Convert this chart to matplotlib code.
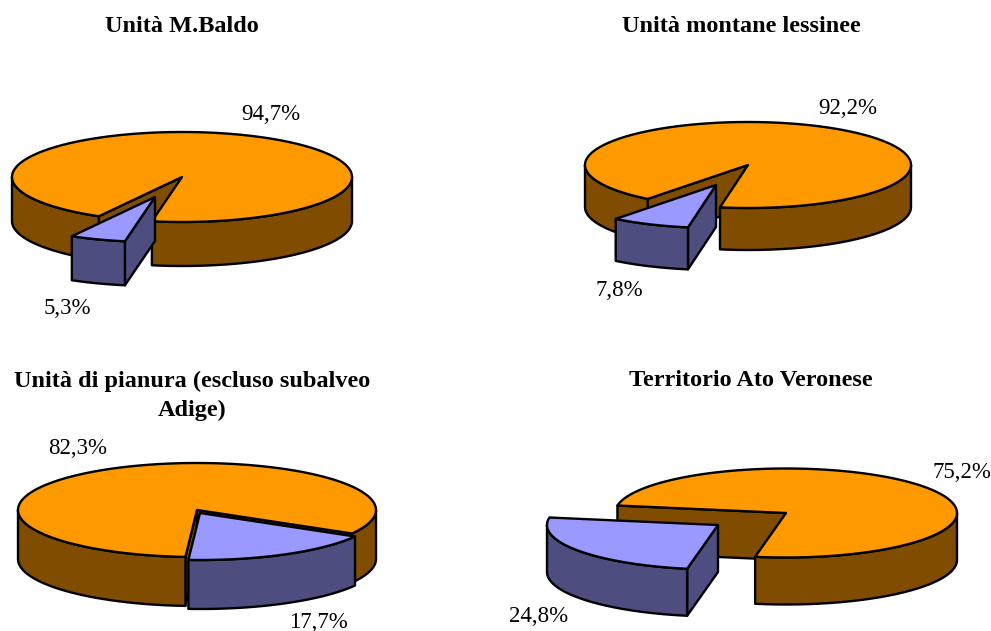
import numpy as np
import matplotlib
matplotlib.use('Agg')
import matplotlib.pyplot as plt
from matplotlib.patches import Polygon

plt.rcParams['font.family'] = ['Liberation Serif', 'DejaVu Serif']

# Data
titles = ['Unità M.Baldo', 'Unità montane lessinee',
          'Unità di pianura (escluso subalveo\nAdige)', 'Territorio Ato Veronese']
small_share = [5.3, 7.8, 17.7, 24.8]
large_share = [94.7, 92.2, 82.3, 75.2]

# Layout of each pie, in image pixels
centers = [(182, 177), (748, 165), (197, 510), (786, 513)]
radii = [(170, 45), (163, 43), (179, 47), (171, 44.5)]
depths = [44, 42, 49, 47]
start_angles = [190.2, 189.9, 120, 190.4]
explode = [(-27, 20), (-32, 20), (3, 3), (-68, 12)]
title_pos = [(182, 27), (741, 27), (192, 396), (751, 380)]
large_pos = [(271, 115), (848, 108), (78, 449), (962, 473)]
small_pos = [(67, 309), (619, 291), (318, 622), (539, 617)]

ORANGE, BROWN = '#FF9900', '#804C00'
BLUE, DARK_BLUE = '#9999FF', '#4D4D80'


def ellipse_pts(c, r, a0, a1):
    # angles run clockwise from the top, y grows downwards
    t = np.radians(np.linspace(a0, a1, max(int(abs(a1 - a0)), 2) + 1))
    return np.column_stack([c[0] + r[0] * np.sin(t), c[1] - r[1] * np.cos(t)])


def draw_slice(ax, c, r, depth, a0, a1, top, side):
    down = np.array([0, depth])
    apex = np.array(c, dtype=float)
    style = dict(edgecolor='black', linewidth=1.7, joinstyle='round')
    # the two cut faces, skipping a face that is turned away from the viewer
    for a, inside in ((a0, a0 + 1), (a1, a1 - 1)):
        edge = ellipse_pts(c, r, a, a)[0]
        inner = ellipse_pts(c, r, inside, inside)[0]
        u = edge - apex
        if np.cross(u, down) * np.cross(u, inner - apex) < 0:
            ax.add_patch(Polygon([apex, edge, edge + down, apex + down],
                                 facecolor=side, **style))
    # outer wall, only the part turned towards the viewer
    for k in (0, 360):
        lo, hi = max(a0, 90 + k), min(a1, 270 + k)
        if hi > lo:
            arc = ellipse_pts(c, r, lo, hi)
            ax.add_patch(Polygon(np.vstack([arc, (arc + down)[::-1]]),
                                 facecolor=side, **style))
    # top face
    ax.add_patch(Polygon(np.vstack([apex, ellipse_pts(c, r, a0, a1)]),
                         facecolor=top, **style))


fig = plt.figure(figsize=(9.91, 6.31), dpi=100)
ax = fig.add_axes([0, 0, 1, 1])
ax.set_xlim(0, 991)
ax.set_ylim(631, 0)
ax.axis('off')

for i in range(4):
    sweep = small_share[i] * 3.6
    a0 = start_angles[i]
    c = centers[i]
    draw_slice(ax, c, radii[i], depths[i], a0 + sweep, a0 + 360, ORANGE, BROWN)
    c2 = (c[0] + explode[i][0], c[1] + explode[i][1])
    draw_slice(ax, c2, radii[i], depths[i], a0, a0 + sweep, BLUE, DARK_BLUE)

    ax.text(*title_pos[i], titles[i], ha='center', va='center', fontsize=17.5,
            fontweight='bold', linespacing=1.45, color='black')
    ax.text(*large_pos[i], f'{large_share[i]:.1f}%'.replace('.', ','),
            ha='center', va='center', fontsize=16.5, color='black')
    ax.text(*small_pos[i], f'{small_share[i]:.1f}%'.replace('.', ','),
            ha='center', va='center', fontsize=16.5, color='black')

fig.savefig('out.png', dpi=100)
